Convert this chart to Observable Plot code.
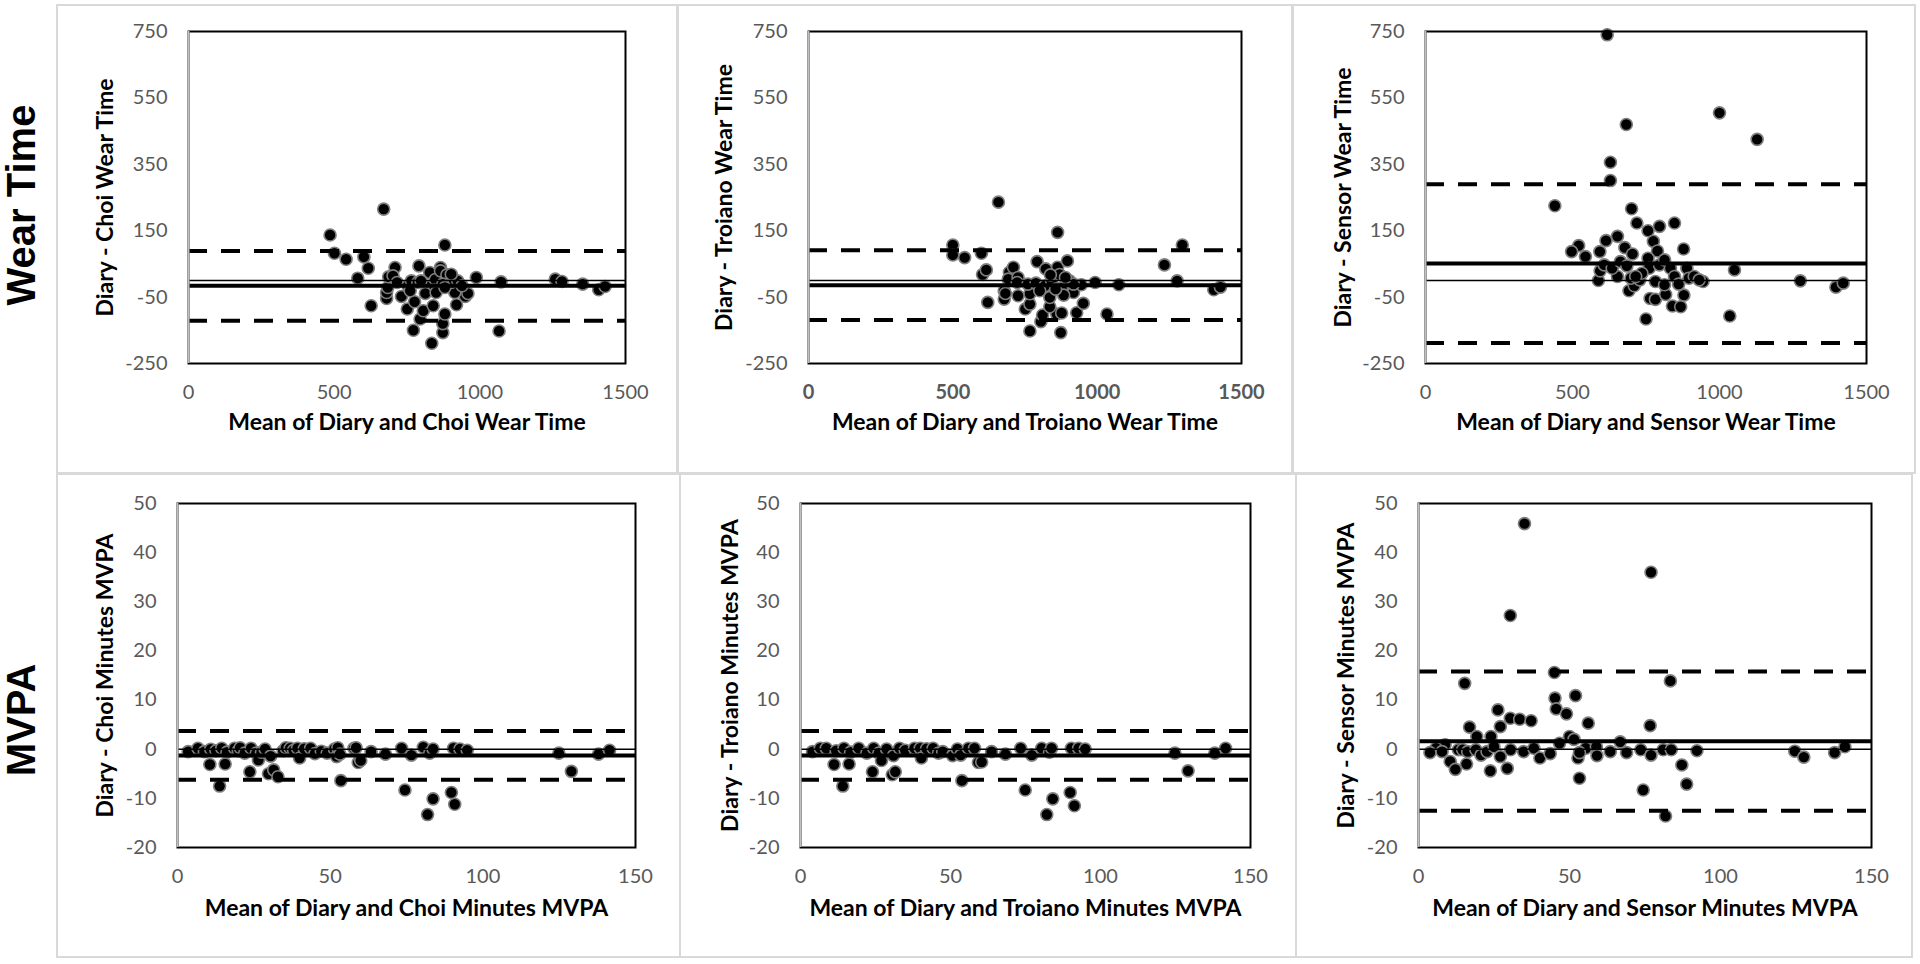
<!DOCTYPE html>
<html><head><meta charset="utf-8">
<script src="https://cdn.jsdelivr.net/npm/d3@7"></script>
<script src="https://cdn.jsdelivr.net/npm/@observablehq/plot@0.6"></script>
<style>
body{margin:0;background:#fff;}
#root{position:relative;width:1920px;height:964px;overflow:hidden;background:#fff;}
.box{position:absolute;border:2px solid #d9d9d9;box-sizing:border-box;}
.plot{position:absolute;}
.rowlab{position:absolute;font-family:"Liberation Sans",Arial,sans-serif;font-weight:bold;font-size:40px;line-height:1;color:#000;white-space:nowrap;writing-mode:vertical-rl;transform:translate(-50%,-50%) rotate(180deg);}
</style></head><body><div id="root"></div>
<script>
// ---------- tick labels / categories ----------
const rowLabels = ["Wear Time", "MVPA"];
const wearXTicks = [0, 500, 1000, 1500];
const wearYTicks = [-250, -50, 150, 350, 550, 750];
const mvpaXTicks = [0, 50, 100, 150];
const mvpaYTicks = [-20, -10, 0, 10, 20, 30, 40, 50];

// ---------- series: [mean of diary and method, diary - method] ----------
const choiWear = [[670,215],[486,137],[501,82],[541,64],[602,71],[617,37],[581,7],[880,107],[791,44],[709,39],[865,39],[988,9],[1073,-4],[1259,4],[1282,-3],[1353,-11],[1408,-28],[1430,-18],[627,-76],[772,-150],[1066,-152],[835,-189],[873,-157],[873,-130],[880,-101],[795,-116],[806,-91],[751,-86],[840,-76],[920,-73],[950,-48],[959,-39],[914,-36],[776,-64],[731,-48],[680,-54],[680,-36],[684,-21],[687,11],[702,14],[716,-6],[753,-16],[765,-1],[787,-6],[820,-19],[828,24],[847,3],[865,29],[887,17],[902,-6],[924,-1],[939,-16],[873,-11],[843,-29],[813,-39],[850,-36],[880,-21],[798,-1],[761,-31],[902,19]];
const troianoWear = [[658,236],[863,145],[500,107],[500,77],[541,69],[599,82],[1295,107],[1233,47],[1277,-1],[1404,-28],[1427,-20],[993,-6],[1075,-13],[1034,-101],[621,-66],[603,18],[616,32],[767,-152],[874,-157],[805,-124],[811,-104],[860,-101],[877,-98],[929,-97],[952,-69],[836,-79],[751,-86],[767,-71],[767,-40],[726,-46],[678,-56],[678,-31],[682,-39],[696,25],[710,40],[692,4],[726,9],[723,-6],[760,-11],[792,57],[788,-8],[822,35],[819,-16],[842,-1],[863,40],[870,18],[877,-23],[897,59],[904,-1],[918,-36],[945,-13],[918,-11],[884,-44],[836,-51],[801,-31],[856,-26],[890,9],[838,17]];
const sensorWear = [[618,740],[1000,505],[683,470],[1128,425],[629,356],[629,301],[440,225],[701,216],[719,173],[796,163],[847,173],[757,150],[653,133],[614,120],[521,105],[497,87],[544,72],[593,87],[678,99],[704,80],[775,118],[789,89],[878,95],[1051,32],[1275,-1],[1396,-20],[1421,-8],[1035,-107],[750,-116],[840,-77],[868,-79],[764,-54],[782,-57],[879,-44],[817,-42],[692,-31],[710,-16],[588,0],[653,12],[594,29],[608,47],[635,37],[663,57],[685,44],[699,7],[729,2],[757,67],[761,37],[782,-3],[796,47],[813,62],[833,37],[847,12],[813,-13],[861,-11],[889,37],[896,7],[914,12],[944,-3],[931,2],[736,22],[715,12]];
const choiMvpa = [[3.5,-0.5],[6.7,0.2],[8.8,-0.5],[10.9,0],[10.6,-3.1],[13.8,-7.5],[12.6,-0.3],[14.5,0.2],[15.6,-3.0],[16.2,-0.6],[18.7,0.2],[19.9,-0.3],[20.5,0.3],[22,-0.8],[23.7,-4.6],[24.1,0.2],[25.8,-0.8],[26.5,-2.2],[27.5,-0.6],[28.7,0.05],[29.8,-5.0],[30.5,-1.4],[31.5,-4.2],[32.9,-5.6],[34.6,-0.3],[35.5,0.3],[36.9,0.2],[38,-0.2],[39.3,0.2],[40,-1.8],[41.5,0.1],[43.6,0.2],[45,-0.9],[47.1,-0.4],[49,-0.8],[51.4,0.05],[52.1,-1.5],[52.5,0.3],[53.2,-1.0],[53.5,-6.4],[57.8,0.2],[58.5,0.3],[59.2,-2.7],[60,-2.3],[63.4,-0.5],[68.1,-1.0],[73.4,0.2],[74.5,-8.3],[76.6,-1.2],[80.5,0.4],[81.9,-13.3],[82.6,-0.8],[83.7,0.05],[83.7,-10.1],[89.7,-8.8],[90.4,0.2],[90.8,-11.2],[92.5,0.05],[94.9,-0.2],[124.9,-0.8],[129,-4.5],[137.9,-1.0],[141.5,-0.2]];
const troianoMvpa = [[4,-0.5],[6.6,0.2],[8.6,0.2],[11.2,-3.1],[11.9,-0.3],[14.1,-7.5],[14.5,0.2],[16.2,-3.0],[16.7,-0.6],[19.4,0.2],[22.1,-0.8],[24,-4.6],[24.4,0.2],[26.1,-0.8],[27,-2.3],[28.7,0.05],[30.6,-5.2],[31,-1.3],[31.6,-4.6],[33,0.2],[34.9,-0.2],[38,0.2],[39.9,0.2],[40.3,-1.8],[42,0.1],[44.2,0.2],[46,-0.8],[47.4,-0.5],[50.7,-1.3],[52.3,0.05],[53.4,-1.2],[53.8,-6.4],[56,0.2],[58,0.2],[59.3,-2.7],[60.4,-2.6],[63.7,-0.5],[68.3,-1.0],[73.4,0.2],[74.9,-8.3],[77.1,-1.2],[80.4,0.2],[82.1,-13.3],[83,-0.6],[83.7,0.2],[84.1,-10.1],[89.9,-8.8],[90.3,0.2],[91.3,-11.5],[92.7,0.2],[94.9,0.05],[124.8,-0.8],[129.2,-4.4],[138.1,-0.8],[141.7,0.2]];
const sensorMvpa = [[35.1,45.9],[77,36],[30.4,27.2],[45,15.6],[15.3,13.4],[83.4,13.9],[45.2,10.4],[52,10.9],[45.6,8.2],[49,7.2],[26.3,8],[30.4,6.3],[33.5,6.1],[37.3,5.8],[56.2,5.3],[76.7,4.8],[16.9,4.5],[27.1,4.6],[19.3,2.6],[24,2.6],[50,2.6],[51.5,2.0],[46.7,1.2],[66.8,1.5],[8.8,0.9],[5.8,0.2],[3.8,-0.7],[7.8,-0.5],[10.5,-2.5],[12.2,-4.1],[13.2,-0.1],[14.6,-0.1],[15.9,-3.0],[16.3,-0.5],[19.0,-0.1],[20.7,-1.2],[22.7,-0.5],[23.8,-4.4],[25,0.5],[27.1,-1.5],[29.4,-3.9],[30.5,-0.1],[34.8,-0.5],[38.2,0.2],[40.2,-1.8],[43.6,-0.9],[55.4,0.2],[52.8,-1.8],[53.3,-0.7],[53.3,-5.9],[58.9,0.5],[59.1,-1.3],[63.5,-0.5],[68.9,-0.7],[73.6,-0.1],[74.4,-8.3],[77,-1.2],[81,-0.1],[81.8,-13.6],[83.7,-0.1],[87.2,-3.2],[88.8,-7.1],[92.2,-0.3],[124.6,-0.4],[127.6,-1.6],[137.8,-0.7],[141.2,0.5]];

// ---------- mean bias and limits of agreement ----------
const meanBias = [-16, -14, 51, -1.3, -1.3, 1.6];
const upperLoA = [89, 91, 290, 3.7, 3.7, 15.8];
const lowerLoA = [-121, -119, -188, -6.2, -6.2, -12.5];

// ---------- titles ----------
const yTitles = ["Diary - Choi Wear Time", "Diary - Troiano Wear Time", "Diary - Sensor Wear Time",
                 "Diary - Choi Minutes MVPA", "Diary - Troiano Minutes MVPA", "Diary - Sensor Minutes MVPA"];
const xTitles = ["Mean of Diary and Choi Wear Time", "Mean of Diary and Troiano Wear Time", "Mean of Diary and Sensor Wear Time",
                 "Mean of Diary and Choi Minutes MVPA", "Mean of Diary and Troiano Minutes MVPA", "Mean of Diary and Sensor Minutes MVPA"];
const seriesList = [choiWear, troianoWear, sensorWear, choiMvpa, troianoMvpa, sensorMvpa];

// ---------- layout (pixels) ----------
const boxes = [[56,4,678,474],[677,4,1293,474],[1292,4,1916,474],[56,473,681,958],[679,473,1297,958],[1295,473,1913,958]];
const frames = [[188,31,625,363],[808,31,1241,363],[1425,31,1866,363],[177,503,635,847],[800,503,1250,847],[1418,503,1871,847]];
const yTitleOffset = [83, 84, 82, 72, 70, 72];

const root = document.getElementById("root");

rowLabels.forEach((t, i) => {
  const d = document.createElement("div");
  d.className = "rowlab";
  d.textContent = t;
  d.style.left = "21px";
  d.style.top = (i === 0 ? 205 : 720) + "px";
  root.appendChild(d);
});

seriesList.forEach((series, i) => {
  const isWear = i < 3;
  const [bl, bt, br, bb] = boxes[i];
  const [fl, ft, fr, fb] = frames[i];
  const box = document.createElement("div");
  box.className = "box";
  Object.assign(box.style, {left: bl + "px", top: bt + "px", width: (br - bl) + "px", height: (bb - bt) + "px"});
  root.appendChild(box);

  const xTicks = isWear ? wearXTicks : mvpaXTicks;
  const yTicks = isWear ? wearYTicks : mvpaYTicks;
  const xDomain = [xTicks[0], xTicks[xTicks.length - 1]];
  const yDomain = [yTicks[0], yTicks[yTicks.length - 1]];
  const data = series.map(([x, y]) => ({x, y}));

  const chart = Plot.plot({
    width: br - bl,
    height: bb - bt,
    marginLeft: fl - bl,
    marginRight: br - fr,
    marginTop: ft - bt,
    marginBottom: bb - fb,
    style: {fontFamily: "Lato, sans-serif", fontSize: "20px", color: "#595959", background: "transparent", overflow: "visible"},
    x: {domain: xDomain, axis: null},
    y: {domain: yDomain, axis: null},
    marks: [
      Plot.axisX(xTicks, {tickSize: 0, tickPadding: 21, tickFormat: d => String(d), label: null, fontWeight: i === 1 ? "bold" : "normal"}),
      Plot.axisY(yTicks, {tickSize: 0, tickPadding: 21, tickFormat: d => String(d), label: null}),
      Plot.dot(data, {x: "x", y: "y", r: 6, fill: "#000", stroke: "#7f7f7f", strokeWidth: 1.6}),
      Plot.ruleY([0], {stroke: "#000", strokeWidth: 1.5}),
      Plot.ruleY([meanBias[i]], {stroke: "#000", strokeWidth: 4}),
      Plot.ruleY([upperLoA[i], lowerLoA[i]], {stroke: "#000", strokeWidth: 4, strokeDasharray: "19,14"}),
      Plot.frame({stroke: "#000", strokeWidth: 2}),
      Plot.ruleX([xDomain[0]], {stroke: "#bfbfbf", strokeWidth: 2}),
      Plot.text([xTitles[i]], {frameAnchor: "bottom", dy: isWear ? 66 : 68, fill: "#000", fontWeight: "bold", fontSize: 23}),
      Plot.text([yTitles[i]], {frameAnchor: "left", textAnchor: "middle", dx: -yTitleOffset[i], rotate: -90, fill: "#000", fontWeight: "bold", fontSize: 23})
    ]
  });
  const wrap = document.createElement("div");
  wrap.className = "plot";
  Object.assign(wrap.style, {left: bl + "px", top: bt + "px"});
  wrap.appendChild(chart);
  root.appendChild(wrap);
});
</script></body></html>
